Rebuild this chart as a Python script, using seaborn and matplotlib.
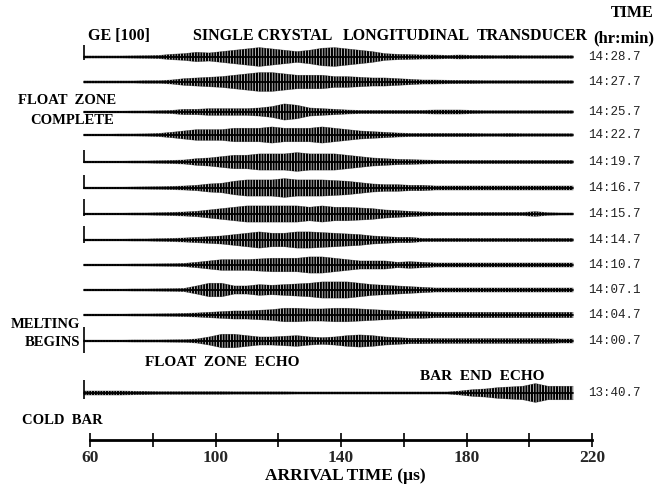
import numpy as np
import pandas as pd
import matplotlib
matplotlib.use("Agg")
import matplotlib.pyplot as plt
import seaborn as sns

# ---------------- data ----------------
# arrival-time sample points (µs)
times = [58, 62, 66, 70, 74, 78, 82, 86, 90, 94, 98, 102, 106, 110, 114, 118,
         122, 126, 130, 134, 138, 142, 146, 150, 154, 158, 162, 166, 170, 174,
         178, 182, 186, 190, 194, 198, 202, 206, 210, 214]

trace_labels = ["14:28.7", "14:27.7", "14:25.7", "14:22.7", "14:19.7", "14:16.7",
                "14:15.7", "14:14.7", "14:10.7", "14:07.1", "14:04.7", "14:00.7",
                "13:40.7"]

# envelope amplitude (half peak-to-peak) of each waveform at the sample times
amp_1428_7 = [0.8, 0.8, 0.8, 0.8, 0.9, 1.0, 1.2, 2.0, 2.5, 3.5, 3.0, 4.0, 5.0, 6.0, 7.0, 6.0,
              5.0, 4.0, 5.0, 6.5, 7.0, 6.0, 5.0, 4.0, 2.5, 2.0, 1.8, 1.5, 1.5, 1.2,
              1.5, 1.2, 1.2, 1.0, 1.2, 1.0, 1.0, 1.0, 1.0, 1.0]
amp_1427_7 = [0.8, 0.8, 0.8, 0.8, 0.8, 1.0, 1.0, 1.5, 2.5, 3.0, 3.5, 4.0, 5.0, 6.0, 7.0, 7.0,
              6.0, 5.0, 5.0, 5.0, 4.0, 4.0, 3.5, 3.0, 3.0, 2.5, 2.0, 1.5, 1.5, 1.3,
              1.2, 1.2, 1.0, 1.0, 1.0, 1.0, 1.0, 1.0, 1.0, 1.0]
amp_1425_7 = [0.7, 0.7, 0.7, 0.7, 0.8, 0.8, 1.0, 1.2, 2.0, 2.0, 2.5, 2.5, 2.5, 2.5, 3.0, 4.0,
              6.0, 5.0, 3.0, 2.5, 2.0, 1.5, 1.2, 1.2, 1.2, 1.2, 1.2, 1.2, 1.5, 1.5,
              1.5, 1.2, 1.0, 1.0, 1.0, 1.0, 1.0, 1.0, 1.0, 1.0]
amp_1422_7 = [0.7, 0.7, 0.7, 0.8, 0.8, 0.9, 1.2, 2.0, 3.0, 4.0, 4.0, 4.0, 5.0, 5.0, 5.0, 6.0,
              5.0, 5.0, 5.0, 6.0, 5.0, 4.0, 3.0, 2.5, 2.0, 1.5, 1.2, 1.2, 1.2, 1.2,
              1.2, 1.2, 1.0, 1.0, 1.2, 1.0, 1.0, 1.0, 1.0, 1.0]
amp_1419_7 = [0.7, 0.7, 0.7, 0.7, 0.8, 0.8, 1.0, 1.2, 1.5, 2.5, 3.0, 4.0, 5.0, 5.0, 6.0, 6.0,
              6.0, 7.0, 6.0, 6.0, 6.0, 5.0, 4.0, 3.0, 2.5, 2.0, 1.8, 1.5, 1.3, 1.2,
              1.2, 1.2, 1.2, 1.2, 1.2, 1.2, 1.2, 1.2, 1.2, 1.2]
amp_1416_7 = [0.7, 0.7, 0.7, 0.7, 0.8, 0.9, 1.0, 1.2, 1.5, 2.0, 3.0, 3.5, 5.0, 6.0, 6.0, 6.0,
              7.0, 6.0, 6.0, 6.0, 5.5, 5.0, 4.0, 3.0, 2.5, 2.5, 2.0, 2.0, 1.5, 1.5,
              1.5, 1.5, 1.5, 1.5, 1.5, 1.5, 1.5, 1.5, 1.5, 1.5]
amp_1415_7 = [0.7, 0.7, 0.7, 0.7, 0.8, 0.8, 1.0, 1.2, 1.5, 2.0, 3.0, 4.0, 5.0, 6.0, 6.0, 6.0,
              6.0, 6.0, 5.0, 6.0, 5.0, 5.0, 4.5, 4.0, 3.0, 2.5, 2.0, 1.5, 1.3, 1.2,
              1.2, 1.2, 1.2, 1.2, 1.2, 1.2, 1.8, 1.0, 0.8, 0.8]
amp_1414_7 = [0.7, 0.7, 0.7, 0.7, 0.8, 0.8, 1.0, 1.2, 1.5, 2.0, 2.5, 3.0, 4.0, 5.0, 6.0, 5.0,
              5.0, 6.0, 6.0, 5.5, 5.0, 4.5, 4.0, 3.0, 2.5, 2.0, 2.0, 1.2, 1.2, 1.2,
              1.2, 1.2, 1.2, 1.2, 1.2, 1.2, 1.2, 1.2, 1.2, 1.2]
amp_1410_7 = [0.7, 0.7, 0.7, 0.7, 0.8, 0.8, 0.9, 1.0, 1.2, 2.0, 3.0, 4.0, 4.0, 4.0, 4.5, 5.0,
              5.0, 5.0, 6.0, 6.0, 5.0, 4.0, 3.0, 3.0, 3.0, 2.0, 2.5, 2.0, 1.5, 1.5,
              1.5, 1.5, 1.5, 1.5, 1.5, 1.5, 1.5, 1.5, 1.5, 1.5]
amp_1407_1 = [0.7, 0.7, 0.7, 0.7, 0.8, 0.8, 0.9, 1.0, 1.2, 3.0, 5.0, 5.0, 3.0, 3.0, 4.0, 3.5,
              4.0, 4.5, 5.0, 6.0, 6.0, 6.0, 5.0, 4.0, 3.5, 3.0, 2.5, 2.0, 1.5, 1.5,
              1.5, 1.5, 1.5, 1.5, 1.5, 1.5, 1.5, 1.5, 1.5, 1.5]
amp_1404_7 = [0.7, 0.7, 0.7, 0.7, 0.8, 0.8, 0.9, 1.0, 1.2, 1.5, 2.0, 2.5, 3.0, 3.0, 3.5, 4.0,
              5.0, 5.0, 4.5, 4.5, 5.0, 5.0, 4.5, 4.0, 3.5, 3.0, 2.5, 2.5, 2.0, 2.0,
              2.0, 2.0, 2.0, 2.0, 2.0, 2.0, 2.0, 2.0, 2.0, 2.0]
amp_1400_7 = [0.7, 0.7, 0.7, 0.7, 0.8, 0.8, 0.8, 0.9, 1.0, 1.5, 3.0, 5.0, 5.0, 4.0, 3.0, 3.0,
              3.5, 4.0, 3.0, 2.5, 3.0, 4.0, 4.5, 4.0, 3.0, 2.5, 2.0, 2.0, 1.8, 1.8,
              1.8, 1.8, 1.8, 1.8, 1.8, 1.8, 1.8, 1.8, 1.5, 1.5]
amp_1340_7 = [1.5, 1.5, 1.5, 1.5, 1.3, 1.2, 1.0, 1.0, 1.0, 1.0, 1.0, 1.0, 0.9, 0.9, 0.9, 0.9,
              0.9, 0.8, 0.8, 0.8, 0.8, 0.8, 0.8, 0.8, 0.8, 0.8, 0.8, 0.8, 0.8, 0.8,
              1.5, 2.5, 3.0, 4.0, 4.5, 5.0, 7.0, 5.0, 5.0, 5.0]

amplitudes = [amp_1428_7, amp_1427_7, amp_1425_7, amp_1422_7, amp_1419_7, amp_1416_7,
              amp_1415_7, amp_1414_7, amp_1410_7, amp_1407_1, amp_1404_7, amp_1400_7,
              amp_1340_7]

x_ticks_major = [60, 100, 140, 180, 220]
x_ticks_minor = [80, 120, 160, 200]

# ---------------- layout (figure pixel units) ----------------
trace_y = [57, 82, 112, 135, 162, 188, 214, 240, 265, 290, 315, 341, 393]
start_marks = {0: (-12, 3), 4: (-12, 1), 5: (-13, 1), 6: (-15, 2), 7: (-14, 3),
               11: (-14, 12), 12: (-13, 6)}
gain = 1.35  # display gain (pixels per amplitude unit)

W, H = 666, 484
px_per_us = 3.1375
x0_px = 90  # pixel of 60 µs


def px2t(px):
    return 60 + (px - x0_px) / px_per_us


rows = []
for lab, base, amp in zip(trace_labels, trace_y, amplitudes):
    for t, a in zip(times, amp):
        rows.append({"trace": lab, "time": t, "base": base,
                     "upper": base - gain * a, "lower": base + gain * a})
df = pd.DataFrame(rows)

sns.set_theme(style="white")
plt.rcParams["font.family"] = ["Liberation Serif", "DejaVu Serif"]
plt.rcParams["hatch.linewidth"] = 1.5

fig = plt.figure(figsize=(W / 100, H / 100), dpi=100)
ax = fig.add_axes([0, 0, 1, 1])
ax.set_xlim(px2t(0), px2t(W))
ax.set_ylim(H, 0)

for lab in trace_labels:
    d = df[df["trace"] == lab]
    ax.fill_between(d["time"], d["upper"], d["lower"], facecolor="none",
                    edgecolor="black", hatch="||||||", lw=0)
sns.lineplot(data=df, x="time", y="base", units="trace", estimator=None,
             color="black", lw=1.3, ax=ax, legend=False)
sns.lineplot(data=df, x="time", y="upper", units="trace", estimator=None,
             color="black", lw=0.4, alpha=0.5, ax=ax, legend=False)
sns.lineplot(data=df, x="time", y="lower", units="trace", estimator=None,
             color="black", lw=0.4, alpha=0.5, ax=ax, legend=False)

for i, (up, down) in start_marks.items():
    ax.vlines(times[0], trace_y[i] + up, trace_y[i] + down, color="black", lw=1.2)

mono = ["Liberation Mono", "DejaVu Sans Mono"]
for lab, base in zip(trace_labels, trace_y):
    ax.text(px2t(588), base, lab, family=mono, fontsize=9, va="center", ha="left",
            color="#222222")

bold = dict(fontweight="bold", color="black")
# title line
for word, xs in [("GE [100]", 88), ("SINGLE CRYSTAL", 193), ("LONGITUDINAL", 343),
                 ("TRANSDUCER", 477)]:
    ax.text(px2t(xs), 36, word, fontsize=11.5, va="center", ha="left", **bold)
ax.text(px2t(632), 13, "TIME", fontsize=11.5, va="center", ha="center", **bold)
ax.text(px2t(624), 38, "(hr:min)", fontsize=12, va="center", ha="center", **bold)

ax.text(px2t(18), 100, "FLOAT  ZONE", fontsize=10.5, va="center", ha="left", **bold)
ax.text(px2t(30), 121, "COMPLETE", fontsize=10.5, va="center", ha="left", **bold)
ax.text(px2t(80), 325, "MELTING", fontsize=10.5, va="center", ha="right", **bold)
ax.text(px2t(80), 343, "BEGINS", fontsize=10.5, va="center", ha="right", **bold)
ax.text(px2t(145), 363, "FLOAT  ZONE  ECHO", fontsize=11, va="center", ha="left", **bold)
ax.text(px2t(420), 377, "BAR  END  ECHO", fontsize=11, va="center", ha="left", **bold)
ax.text(px2t(22), 421, "COLD  BAR", fontsize=10.5, va="center", ha="left", **bold)

# x axis
for s in ["top", "left", "right"]:
    ax.spines[s].set_visible(False)
ax.spines["bottom"].set_position(("data", 440))
ax.spines["bottom"].set_bounds(60, 220)
ax.spines["bottom"].set_linewidth(2)
ax.spines["bottom"].set_color("black")
ax.set_yticks([])
ax.set_ylabel("")
ax.set_xticks(x_ticks_major)
ax.set_xticks(x_ticks_minor, minor=True)
ax.set_xticklabels([str(v) for v in x_ticks_major], fontsize=12.5, fontweight="bold")
ax.tick_params(axis="x", which="both", direction="inout", length=10, width=1.2,
               color="black", bottom=True, pad=2)
ax.set_xlabel("ARRIVAL TIME (µs)", fontsize=12.5, fontweight="bold", color="black")
ax.xaxis.set_label_coords(345 / W, 1 - 476 / H)
ax.xaxis.label.set_va("center")

fig.savefig("out.png", dpi=100, facecolor="white")
